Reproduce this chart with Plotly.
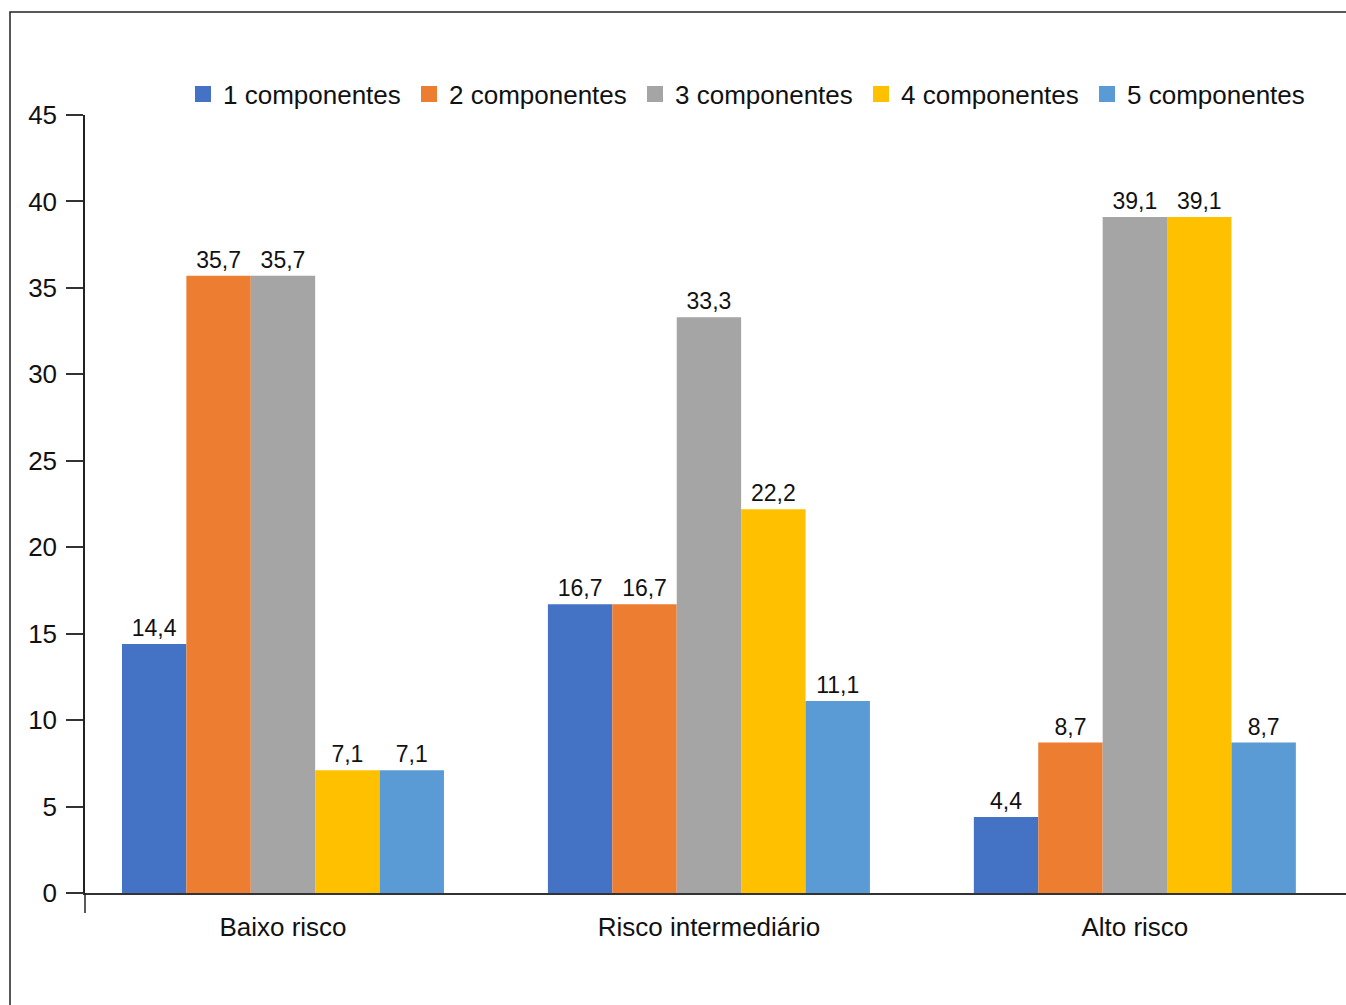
import plotly.graph_objects as go

# Risk groups on the x axis
categories = ["Baixo risco", "Risco intermediário", "Alto risco"]

# Percentage of patients per number of components
series_names = ["1 componentes", "2 componentes", "3 componentes", "4 componentes", "5 componentes"]
comp1 = [14.4, 16.7, 4.4]
comp2 = [35.7, 16.7, 8.7]
comp3 = [35.7, 33.3, 39.1]
comp4 = [7.1, 22.2, 39.1]
comp5 = [7.1, 11.1, 8.7]

y_ticks = [0, 5, 10, 15, 20, 25, 30, 35, 40, 45]

colors = ["#4472C4", "#ED7D31", "#A5A5A5", "#FFC000", "#5B9BD5"]
FONT = "Liberation Sans, Arial, sans-serif"

W, H = 1346, 1005
L, R, T, B = 85, 0, 115, 112
pw, ph = W - L - R, H - T - B

fig = go.Figure()
for name, vals, col in zip(series_names, [comp1, comp2, comp3, comp4, comp5], colors):
    fig.add_trace(go.Bar(
        name=name,
        x=categories,
        y=vals,
        marker=dict(color=col, line=dict(width=0)),
        text=[f"{v:.1f}".replace(".", ",") for v in vals],
        textposition="outside",
        textfont=dict(family=FONT, size=23, color="#111111"),
        cliponaxis=False,
        legendgroup=name,
        showlegend=False,
    ))

# Legend entries with larger square swatches
for name, col in zip(series_names, colors):
    fig.add_trace(go.Scatter(
        name=name,
        x=[None], y=[None],
        mode="markers",
        marker=dict(symbol="square", size=17, color=col),
        legendgroup=name,
        showlegend=True,
        hoverinfo="skip",
    ))

fig.update_layout(
    width=W, height=H,
    margin=dict(l=L, r=R, t=T, b=B, pad=0),
    paper_bgcolor="white",
    plot_bgcolor="white",
    barmode="group",
    bargap=0.244,
    bargroupgap=0,
    font=dict(family=FONT, size=26, color="#111111"),
    legend=dict(
        orientation="h",
        x=(183 - L) / pw, xanchor="left",
        y=(893 - 94) / ph, yanchor="middle",
        font=dict(family=FONT, size=26, color="#111111"),
        entrywidth=181, entrywidthmode="pixels",
        itemwidth=30,
        bgcolor="rgba(0,0,0,0)",
    ),
    xaxis=dict(
        range=[-0.4648, 2.4957],
        showline=True, linecolor="#333333", linewidth=2,
        ticks="", showgrid=False,
        tickfont=dict(family=FONT, size=26, color="#111111"),
        ticklabelstandoff=10,
    ),
    yaxis=dict(
        range=[0, 45],
        tickvals=y_ticks,
        showline=True, linecolor="#222222", linewidth=1.5,
        ticks="outside", ticklen=17, tickcolor="#333333", tickwidth=1.5,
        showgrid=False, zeroline=False,
        tickfont=dict(family=FONT, size=26, color="#111111"),
        ticklabelstandoff=4,
    ),
    shapes=[
        # outer frame
        dict(type="rect", xref="paper", yref="paper",
             x0=(10 - L) / pw, x1=1.02, y0=-0.3, y1=(893 - 12) / ph,
             line=dict(color="#222222", width=1.5), fillcolor="rgba(0,0,0,0)", layer="below"),
        # y axis line extending below the baseline
        dict(type="line", xref="paper", yref="paper",
             x0=0, x1=0, y0=0, y1=-20 / ph,
             line=dict(color="#222222", width=1.5)),
    ],
)

fig.write_html("out.html")
